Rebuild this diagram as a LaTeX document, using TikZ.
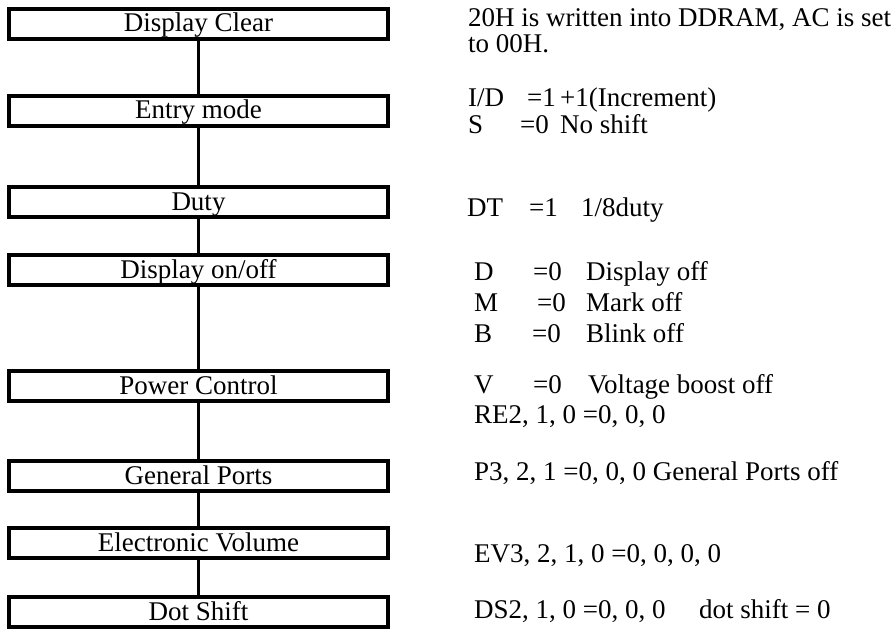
\documentclass[tikz,border=0pt]{standalone}
\usepackage{fontspec}
\setmainfont{Liberation Serif}
\usetikzlibrary{positioning}
\newcommand{\col}[2]{\makebox[#1bp][l]{#2}}

\begin{document}
\begin{tikzpicture}[
    x=1bp, y=1bp,
    stage/.style={draw, line width=4bp, minimum width=379bp, minimum height=30bp, inner sep=0pt,
        text height=19bp, text depth=3bp, font=\fontsize{27bp}{30bp}\selectfont},
    note/.style={anchor=base west, inner sep=0pt, font=\fontsize{27bp}{30bp}\selectfont},
    link/.style={line width=3bp},
    thinlink/.style={line width=2.2bp}
]
    \useasboundingbox (0,0) rectangle (894,-631);

    % Nodes - flow column
    \node[stage] (clear) at (198.5,-24) {Display Clear};
    \node[stage, below=53bp of clear] (entry) {Entry mode};
    \node[stage, below=57bp of entry] (duty) {Duty};
    \node[stage, below=34bp of duty] (onoff) {Display on/off};
    \node[stage, below=82bp of onoff] (power) {Power Control};
    \node[stage, below=56bp of power] (ports) {General Ports};
    \node[stage, below=33bp of ports] (volume) {Electronic Volume};
    \node[stage, below=35bp of volume] (dotshift) {Dot Shift};

    % Connectors
    \draw[link] (clear) -- (entry);
    \draw[link] (entry) -- (duty);
    \draw[link] (duty) -- (onoff);
    \draw[link] (onoff) -- (power);
    \draw[link] (power) -- (ports);
    \draw[thinlink] (ports) -- (volume);
    \draw[thinlink] (volume) -- (dotshift);

    % Notes - right column
    \node[note] (clearA) at (468,-27) {20H is written into DDRAM, AC is set};
    \node[note] (clearB) at (468,-53) {to 00H.};
    \node[note] (entryA) at (468,-107) {\col{59}{I/D}\col{33}{=1}+1(Increment)};
    \node[note] (entryB) at (468,-134) {\col{52}{S}\col{40}{=0}No shift};
    \node[note] (dutyA) at (467,-217) {\col{62}{DT}\col{52}{=1}1/8duty};
    \node[note] (onoffA) at (474,-280.7) {\col{59}{D}\col{53}{=0}Display off};
    \node[note] (onoffB) at (474,-311.7) {\col{63}{M}\col{49}{=0}Mark off};
    \node[note] (onoffC) at (474,-342.7) {\col{58}{B}\col{54}{=0}Blink off};
    \node[note] (powerA) at (474,-393) {\col{59}{V}\col{55}{=0}Voltage boost off};
    \node[note] (powerB) at (474,-423) {RE2, 1, 0 =0, 0, 0};
    \node[note] (portsA) at (474,-480) {P3, 2, 1 =0, 0, 0 General Ports off};
    \node[note] (volumeA) at (474,-562) {EV3, 2, 1, 0 =0, 0, 0, 0};
    \node[note] (dotshiftA) at (474,-618) {\col{225}{DS2, 1, 0 =0, 0, 0}dot shift = 0};
\end{tikzpicture}
\end{document}
